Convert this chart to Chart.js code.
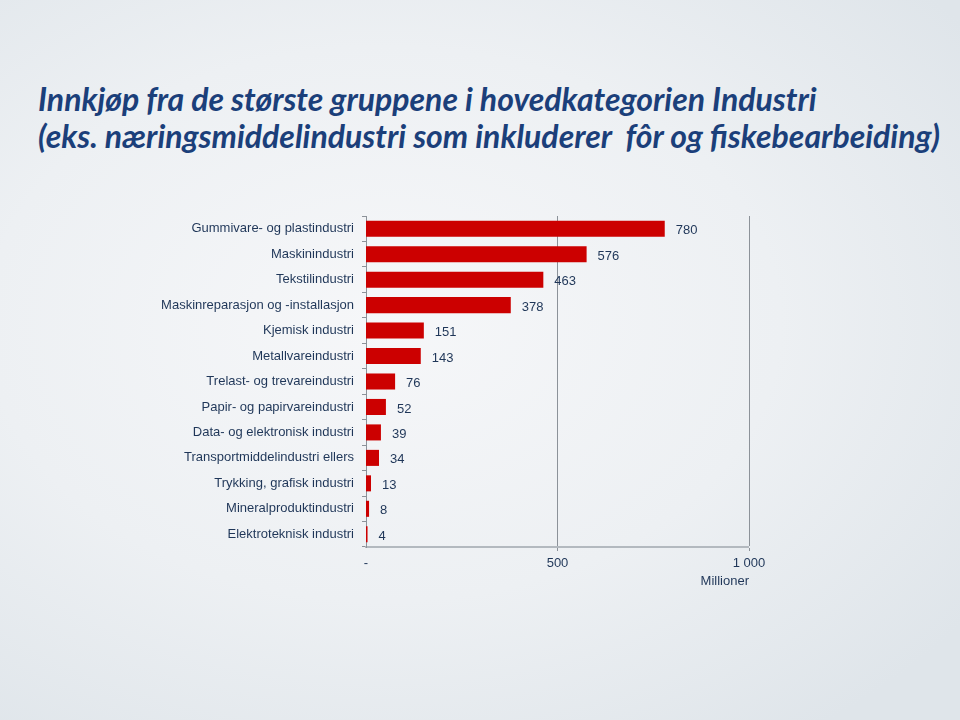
<!DOCTYPE html>
<html lang="no">
<head>
  <meta charset="UTF-8">
  <title>Innkjøp fra de største gruppene i hovedkategorien Industri</title>
  <script src="https://cdn.jsdelivr.net/npm/chart.js"></script>
  <style>
    html, body { margin: 0; padding: 0; }
    body {
      width: 960px; height: 720px; overflow: hidden; position: relative;
      background: radial-gradient(ellipse 75% 70% at 40% 45%, #f6f7f9 0%, #edf0f3 55%, #dfe5ea 100%);
      font-family: "Liberation Sans", Arial, sans-serif;
    }
    .title {
      position: absolute; left: 38px; top: 80px; margin: 0;
      font-family: Lato, "Open Sans", sans-serif; font-style: italic; font-weight: bold;
      font-size: 32px; line-height: 37px; color: #1b3f7a; white-space: pre;
    }
    .wrap { position: absolute; left: 0; top: 0; width: 960px; height: 720px; }
  </style>
</head>
<body>
  <div class="title">Innkjøp fra de største gruppene i hovedkategorien Industri
(eks. næringsmiddelindustri som inkluderer  fôr og fiskebearbeiding)</div>
  <div class="wrap"><canvas id="chart" width="960" height="720"></canvas></div>

  <script>
    // data
    const categories = [
      'Gummivare- og plastindustri',
      'Maskinindustri',
      'Tekstilindustri',
      'Maskinreparasjon og -installasjon',
      'Kjemisk industri',
      'Metallvareindustri',
      'Trelast- og trevareindustri',
      'Papir- og papirvareindustri',
      'Data- og elektronisk industri',
      'Transportmiddelindustri ellers',
      'Trykking, grafisk industri',
      'Mineralproduktindustri',
      'Elektroteknisk industri'
    ];
    const values = [780, 576, 463, 378, 151, 143, 76, 52, 39, 34, 13, 8, 4];
    const xTicks = [0, 500, 1000];
    const xTickLabels = ['-', '500', '1 000'];

    const textColor = '#1f3658';
    const lineColor = '#8c9299';

    // value labels to the right of each bar
    const valueLabels = {
      id: 'valueLabels',
      afterDatasetsDraw(chart) {
        const ctx = chart.ctx;
        const meta = chart.getDatasetMeta(0);
        ctx.save();
        ctx.font = '13px "Liberation Sans", Arial, sans-serif';
        ctx.fillStyle = textColor;
        ctx.textAlign = 'left';
        ctx.textBaseline = 'middle';
        meta.data.forEach((bar, i) => {
          ctx.fillText(String(values[i]), bar.x + 11, bar.y + 2);
        });
        ctx.restore();
      }
    };

    new Chart(document.getElementById('chart'), {
      type: 'bar',
      data: {
        labels: categories,
        datasets: [{
          data: values,
          backgroundColor: '#cc0000',
          barPercentage: 0.63,
          categoryPercentage: 1.0
        }]
      },
      options: {
        indexAxis: 'y',
        responsive: false,
        animation: false,
        layout: { padding: { left: 0, right: 211, top: 216, bottom: 131 } },
        plugins: {
          legend: { display: false },
          tooltip: { enabled: false }
        },
        scales: {
          x: {
            min: 0, max: 1000,
            afterBuildTicks(scale) { scale.ticks = xTicks.map(v => ({ value: v })); },
            afterFit(scale) { scale.height = 42; },
            ticks: {
              color: textColor,
              font: { size: 13, family: '"Liberation Sans", Arial, sans-serif' },
              padding: 5,
              callback: (v) => xTickLabels[xTicks.indexOf(v)]
            },
            grid: {
              color: lineColor,
              lineWidth: (c) => c.tick && c.tick.value === 0 ? 0 : 1,
              tickLength: 4,
              tickColor: lineColor
            },
            border: { color: '#b3b9bf', width: 2 },
            title: {
              display: true, text: 'Millioner', align: 'end',
              color: textColor,
              font: { size: 13, family: '"Liberation Sans", Arial, sans-serif' },
              padding: { top: 0, bottom: 0 }
            }
          },
          y: {
            afterFit(scale) { scale.width = 366; },
            ticks: {
              color: textColor,
              font: { size: 13, family: '"Liberation Sans", Arial, sans-serif' },
              padding: 8
            },
            grid: {
              drawOnChartArea: false,
              tickLength: 4,
              color: lineColor
            },
            border: { color: lineColor, width: 1 }
          }
        }
      },
      plugins: [valueLabels]
    });
  </script>
</body>
</html>
